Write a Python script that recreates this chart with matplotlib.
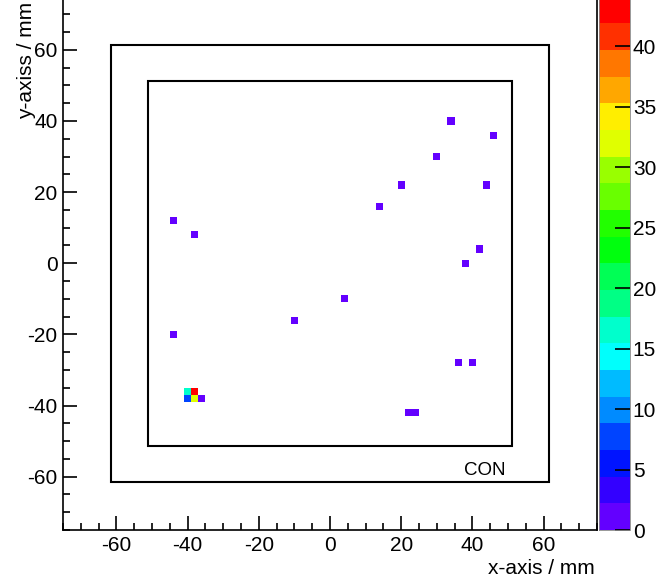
import colorsys
import numpy as np
import matplotlib
matplotlib.use("Agg")
import matplotlib.pyplot as plt
from matplotlib.colors import ListedColormap, BoundaryNorm
from matplotlib.patches import Rectangle

plt.rcParams['font.family'] = ['Liberation Sans', 'DejaVu Sans']
plt.rcParams['axes.unicode_minus'] = False

# hit positions (bin centres, mm) and counts
x_mm = [-44, -38, -44, -10, 4, 14, 20, 30, 34, 46, 44, 42, 38, 36, 40, 22, 24,
        -40, -38, -40, -38, -36]
y_mm = [12, 8, -20, -16, -10, 16, 22, 30, 40, 36, 22, 4, 0, -28, -28, -42, -42,
        -36, -36, -38, -38, -38]
counts = [1, 1, 1, 1, 1, 1, 1, 1, 1, 1, 1, 1, 1, 1, 1, 1, 1,
          16, 42, 7, 32, 2]

edges = np.arange(-75, 76, 2)
outer_half = 61.5
inner_half = 51.25

# ROOT "pretty" palette: 50 colours violet -> red, 20 contour levels
pal = []
for i in range(49):
    hue = 280 - (i + 1) * (280 / 50)
    pal.append(colorsys.hls_to_rgb(hue / 360.0, 0.5, 1.0))
pal.append((1.0, 0.0, 0.0))
ncont = 20
cols = [pal[int((k + 0.99) * 50 / ncont)] for k in range(ncont)]
cmap = ListedColormap(cols)
zmax = 1.05 * max(counts)
levels = np.linspace(0, zmax, ncont + 1)
norm = BoundaryNorm(levels, cmap.N)

H, _, _ = np.histogram2d(x_mm, y_mm, bins=[edges, edges], weights=counts)
H = np.ma.masked_equal(H.T, 0)

W, Hh = 663, 577
fig = plt.figure(figsize=(W / 100, Hh / 100), dpi=100)
bot = (Hh - 530) / Hh
top = (Hh + 3.5) / Hh
ax = fig.add_axes([63 / W, bot, (597 - 63) / W, top - bot])
cax = fig.add_axes([599 / W, bot, 31 / W, top - bot])

mesh = ax.pcolormesh(edges, edges, H, cmap=cmap, norm=norm)
ax.set_xlim(-75, 75)
ax.set_ylim(-75, 75)

for h in (outer_half, inner_half):
    ax.add_patch(Rectangle((-h, -h), 2 * h, 2 * h, fill=False,
                           edgecolor='black', linewidth=1.5))
ax.text(43.5, -58.3, "CON", ha='center', va='center', fontsize=13.5)

ax.set_xticks(np.arange(-60, 61, 20))
ax.set_yticks(np.arange(-60, 61, 20))
ax.set_xticks(np.arange(-75, 76, 5), minor=True)
ax.set_yticks(np.arange(-75, 76, 5), minor=True)
ax.tick_params(which='both', direction='in', labelsize=15, width=1.2)
ax.tick_params(which='major', length=10, pad=4)
ax.tick_params(which='minor', length=5)
for s in ax.spines.values():
    s.set_linewidth(1.2)
ax.spines['top'].set_visible(False)

cb = fig.colorbar(mesh, cax=cax, ticks=np.arange(0, 41, 5))
cb.outline.set_linewidth(0.6)
cb.outline.set_edgecolor('#888888')
cax.tick_params(direction='in', length=11, width=1.2, labelsize=15, pad=2)
cax.yaxis.set_ticks_position('right')
cax.minorticks_off()

fig.text(595 / W, (Hh - 569) / Hh, "x-axis / mm", ha='right', va='center',
         fontsize=15)
fig.text(27 / W, (Hh - 119) / Hh, "y-axiss / mm", ha='center', va='bottom',
         rotation=90, fontsize=15)

fig.savefig("out.png", dpi=100)
